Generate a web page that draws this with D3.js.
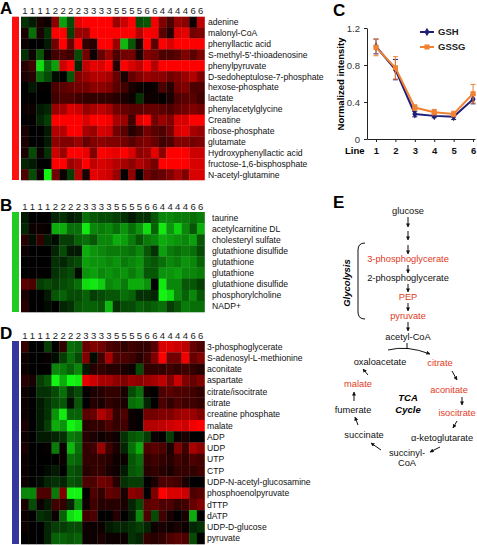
<!DOCTYPE html>
<html><head><meta charset="utf-8">
<script src="https://cdn.jsdelivr.net/npm/d3@7"></script>
<style>body{margin:0;background:#fff} svg{display:block} text{font-family:"Liberation Sans",Arial,sans-serif}</style>
</head><body><svg id="c" width="477" height="545"></svg>
<script>
// ---------- DATA ----------
const colLabels = ["1","1","1","1","2","2","2","2","3","3","3","3","5","5","5","5","6","6","4","4","4","4","6","6"];

const rowsA = ["adenine","malonyl-CoA","phenyllactic acid","S-methyl-5'-thioadenosine","phenylpyruvate","D-sedoheptulose-7-phosphate","hexose-phosphate","lactate","phenylacetylglycine","Creatine","ribose-phosphate","glutamate","Hydroxyphenyllactic acid","fructose-1,6-bisphosphate","N-acetyl-glutamine"];
const valuesA = [
 [-0.2,-0.1,0.1,0.05, 0.55,-0.65,-0.3,0.9, 1,1,1,1, 0.6,0.8,1,-0.3, -0.35,0.95,0.5,0.3, 0.6,0.55,0.05,0.75],
 [0.1,-0.45,0.1,-0.2, 1,1,-0.25,0.6, 0.6,1,1,1, 1,1,1,0.7, 1,0.95,0.35,0.15, 0.85,0.9,0.45,0.5],
 [0.05,0,0,-0.1, 0.45,1,0.4,1, 0.2,0.15,1,1, 0.6,-0.75,-0.35,0.1, 1,0.35,1,0.85, 1,1,1,1],
 [-0.2,0.05,-0.35,0.05, 0.25,0.3,0.25,-0.3, 0.45,0.05,0.4,0.6, 0.3,0.45,0.45,0.1, 0.5,0.45,0.3,0.3, 0.35,0.5,0.35,0.5],
 [0.15,0.25,-0.9,-0.4, -0.65,0.8,1,-0.15, 0.75,0.9,0.85,1, 0.15,1,0.85,0.75, 1,0.7,1,1, 1,1,1,1],
 [0.1,0.15,-0.45,-0.3, -0.05,0,-0.35,0.5, 0.6,0.7,0.7,0.65, 0.4,0.1,0.4,0.5, 0.6,0.55,0.55,0.45, 0.5,0.6,0.7,0.5],
 [0,-0.1,0.02,0.02, 0.3,0.35,0.4,0.45, 0.45,0.55,0.55,0.5, 0.35,0.25,0.1,0.05, 0.03,0.05,0.3,0.15, 0.45,0.5,0.3,0.3],
 [0,0,0,0, 0.25,0.3,0.3,0.25, 0.2,0.2,0.2,0.2, 0.15,0.1,0.05,-0.2, 0.05,0.05,0.02,0.1, 0.3,0.35,0.35,0.25],
 [0.05,0.05,-0.1,-0.15, 0.6,0.65,0.85,0.8, 0.6,0.65,0.75,0.65, 0.45,0.4,0.35,0.35, 0.4,0.4,0.35,0.3, 0.4,0.45,0.5,0.45],
 [0,0.02,-0.15,-0.25, 1,1,1,1, 0.85,1,1,0.95, 0.65,0.6,0.25,0.85, 1,0.45,0.6,0.5, 0.85,0.85,1,1],
 [0.1,0,0,-0.1, 0.7,0.7,1,1, 0.65,0.6,0.85,0.8, 0.45,0.35,0.15,0.25, 0.45,0.35,0.3,0.45, 0.85,0.9,0.65,0.6],
 [0.1,0,0,-0.1, 0.55,0.5,0.5,0.6, 0.4,0.5,0.55,0.5, 0.5,0.45,0.35,0.45, 0.5,0.4,0.25,0.3, 0.5,0.5,0.45,0.5],
 [0.1,-0.3,0.05,-0.2, 0.8,0.6,1,1, 0.9,0.5,1,0.95, 0.9,1,0.85,0.55, 0.6,0.9,0.55,1, 1,1,0.8,0.8],
 [-0.15,-0.1,0,0, 1,1,0.6,0.7, 1,0.75,0.85,0.8, 0.7,0.65,0.55,0.7, 0.6,0.45,1,1, 1,1,0.85,0.85],
 [0.3,-0.3,0.05,-1, 0.45,0.05,-0.25,0.7, 0.1,0.9,0.85,0.8, 0.6,0.02,0.55,0, 0.45,0.35,0.4,0.5, 0.65,0.5,0.85,0.85]
];

const rowsB = ["taurine","acetylcarnitine DL","cholesteryl sulfate","glutathione disulfide","glutathione","glutathione","glutathione disulfide","phosphorylcholine","NADP+"];
const valuesB = [
 [-0.1,0,0,0, -0.15,-0.2,-0.1,-0.15, -0.45,-0.35,-0.3,-0.3, -0.25,-0.2,-0.1,-0.2, -0.2,-0.35,-0.55,-0.55, -0.5,-0.5,-0.45,-0.5],
 [-0.15,0.05,0.05,0.03, -0.7,-0.7,-0.45,-0.45, -0.95,-0.55,-0.5,-0.55, -0.45,-0.6,-0.45,-0.6, -0.9,-0.4,-0.95,-0.6, -0.85,-0.55,-0.35,-0.7],
 [0.15,-0.05,0.2,-0.1, -0.05,-0.25,-0.25,-0.4, -0.45,-0.35,-0.55,-0.55, -0.7,-0.65,-0.5,-0.35, -0.5,-0.55,-0.7,-0.65, -0.6,-0.55,-0.65,-0.35],
 [0.05,0,0,0, -0.15,-0.3,-0.1,-0.1, -0.7,-0.6,-0.55,-0.5, -0.5,-0.5,-0.45,-0.55, -0.35,-0.2,-0.65,-0.5, -0.45,-0.5,-0.45,-0.3],
 [0,0,0,0, -0.2,-0.15,-0.25,-0.3, -0.65,-0.6,-0.6,-0.55, -0.6,-0.5,-0.55,-0.6, -0.4,-0.35,-0.45,-0.55, -0.5,-0.6,-0.55,-0.4],
 [0,0,0.02,0, -0.2,-0.25,-0.3,-0.05, -0.6,-0.65,-0.55,-0.6, -0.55,-0.6,-0.5,-0.6, -0.35,-0.35,-0.6,-0.6, -0.65,-0.55,-0.55,-0.5],
 [0.35,0.3,-0.25,-0.3, -0.25,-0.3,-0.35,-0.45, -0.9,-0.95,-0.85,-0.55, -0.6,-0.5,-0.7,-0.7, -0.6,0,-0.95,-0.55, -0.55,-0.35,-0.35,-0.25],
 [0.1,0,0,-0.1, -0.35,-0.4,-0.3,-0.3, -0.4,-0.25,-0.3,-0.35, -0.35,-0.45,-0.4,-0.2, -0.2,-0.15,-1,-0.9, -0.55,-0.4,-0.55,-0.35],
 [0.15,0,0,-0.05, 0,-0.15,-0.2,-0.35, -0.4,-0.4,-0.35,-0.75, -0.2,-0.3,-0.3,-0.4, -0.35,-0.4,-0.45,-0.25, -0.35,-0.5,-0.45,-0.45]
];

const rowsD = ["3-phosphoglycerate","S-adenosyl-L-methionine","aconitate","aspartate","citrate/isocitrate","citrate","creatine phosphate","malate","ADP","UDP","UTP","CTP","UDP-N-acetyl-glucosamine","phosphoenolpyruvate","dTTP","dATP","UDP-D-glucose","pyruvate"];
const valuesD = [
 [0.2,0,0,-0.25, 0,0.2,-0.45,-0.4, 0.4,0.5,0.45,0.3, 0.25,0.2,0.25,0.2, 0.2,0.35,0.85,0.85, 0.8,0.75,0.4,0.3],
 [0.05,0,0,0.03, -0.05,-0.25,-0.45,-0.3, 0.5,-0.05,0.25,0.65, 0.3,0.3,0.25,0.15, 0.25,0.5,1,0.45, 0.45,0.95,0.4,0.5],
 [0.05,0,0,0, -0.55,-0.5,-0.4,-0.55, -0.1,0.15,0.2,0.15, 0.15,0.1,0.05,-0.3, 0.2,0.2,0.2,0.25, 0.2,0.25,0.2,0.15],
 [0.15,0.1,-0.25,-0.35, -1,-0.7,-1,-0.95, 0.9,0.8,0.65,0.65, 0.55,0.5,0.6,0.55, 0.6,0.65,0.75,0.5, 0.8,0.5,0.4,0.5],
 [0.05,0,-0.2,-0.2, -0.3,-0.45,-0.2,-0.3, 0.02,0.1,0.15,0.2, 0.2,0.1,-0.3,-0.45, 0.05,0,0.3,0.35, 0.3,0.3,0.25,0.2],
 [0.05,0,-0.1,-0.2, -0.3,-0.35,-0.05,-0.35, 0,0.15,0.1,0.2, 0.15,0.1,-0.45,-0.5, -0.15,0,0.3,0.2, 0.3,0.25,0.25,0.2],
 [0.05,0,-0.1,-0.2, -0.6,-0.95,-0.4,-0.4, 0.35,0.4,0.7,0.55, 0.2,0.3,0.05,0, 0.45,0.45,0.5,0.5, 0.6,0.65,0.6,0.5],
 [0.1,0,-0.1,-0.25, -0.7,-0.6,-1,-0.9, 0.15,0.2,0.2,0.3, 0.2,0.25,0.05,0, 0.7,0.7,0.75,0.8, 0.85,0.8,0.95,1],
 [0.05,0,-0.1,-0.1, -0.15,-0.2,-0.5,-0.45, 0.15,0.1,0.05,0.1, 0.05,-0.2,-0.35,-0.4, -0.25,0.05,0,-0.25, 0.05,0.1,0,0],
 [0.1,0,0,0.03, -0.5,0.05,-0.75,-0.45, 0.2,0.25,0.6,0.25, 0.1,-0.15,-0.45,-0.7, 0.3,0.35,0.3,0.1, 0.5,0.25,0.65,0.55],
 [0.05,0,0,0, 0,0.05,-0.45,-0.4, 0.2,0.2,0.2,0.15, 0.05,0.05,-0.35,-0.45, 0.2,0.25,0.2,0.15, 0.25,0.2,0.3,0.25],
 [0.05,0,0,-0.05, -0.1,0,-0.35,-0.3, 0.15,0.2,0.2,0.1, 0.05,-0.1,-0.35,-0.4, 0.15,0.2,0.15,0.1, 0.2,0.2,0.2,0.25],
 [0.05,0,-0.05,-0.15, -0.2,-0.15,-0.35,-0.3, 0.3,0.3,0.45,0.4, 0.15,-0.2,-0.25,-0.25, 0,0.1,0.3,0.3, 0.25,0.1,0,0],
 [-0.55,-0.55,0.3,0.3, -0.5,0.5,-1,-1, 0,0.3,0.2,0.4, 0.35,0.1,0.55,0.5, 0,0.5,1,0.85, 0.85,0.8,0.3,0.35],
 [0.1,-0.3,0.05,-0.1, 0.25,0.2,-0.15,-0.6, 0.05,0.25,0.15,0.15, 0.15,0.1,-0.15,-0.3, 0.35,0.4,0.3,0.3, 0.2,0.25,0.4,0.5],
 [0.05,0,-0.2,-0.15, 0.05,-0.4,-0.9,-1, 0.25,0.3,0,0, 0.15,0,-0.1,-0.55, 0.3,-0.3,0.25,0.1, 0,0.1,-0.7,0],
 [0.05,0,0,-0.15, -0.25,-0.25,-0.3,-0.3, 0.05,0.05,0.05,-0.1, -0.15,-0.15,-0.2,-0.25, -0.15,0.05,0.1,0.05, 0.1,0.05,-0.15,-0.2],
 [0,0,0,-0.15, -0.4,-0.4,-0.35,-0.4, 0.05,0.05,0.1,0.05, 0.05,0.05,-0.2,-0.15, 0.2,0.15,0.2,0.3, 0.35,0.3,-0.3,0]
];

// Panel C
const lineIds = [1,2,3,4,5,6];
const gsh = [1.0, 0.75, 0.27, 0.25, 0.24, 0.43];
const gshErr = [0.08, 0.11, 0.03, 0.02, 0.03, 0.05];
const gssg = [0.99, 0.77, 0.34, 0.29, 0.27, 0.49];
const gssgErr = [0.09, 0.12, 0.03, 0.03, 0.03, 0.1];
const yTicksC = [0, 0.4, 0.8, 1.2];

// Panel E pathway labels
const pathNodes = [
 {id:"glucose", red:false},{id:"3-phosphoglycerate", red:true},{id:"2-phosphoglycerate", red:false},
 {id:"PEP", red:true},{id:"pyruvate", red:true},{id:"acetyl-CoA", red:false},
 {id:"oxaloacetate", red:false},{id:"citrate", red:true},{id:"malate", red:true},{id:"aconitate", red:true},
 {id:"fumerate", red:false},{id:"isocitrate", red:true},{id:"succinate", red:false},
 {id:"\u03b1-ketoglutarate", red:false},{id:"succinyl-", red:false},{id:"CoA", red:false}
];

// ---------- DRAW ----------
const svg = d3.select("#c");
const FONT = '"Liberation Sans",Arial,sans-serif';
const color = d3.scaleLinear().domain([-1,0,1]).range(["#12f512","#000000","#ff0000"]).clamp(true);

function letter(t,x,y){
  svg.append("text").attr("x",x).attr("y",y).attr("font-size",17).attr("font-weight","bold").text(t);
}

function heat(rows, values, top, bottom, barColor, labelX){
  const g = svg.append("g");
  const x = d3.scaleBand().domain(d3.range(colLabels.length)).range([21,204.5]);
  const y = d3.scaleBand().domain(d3.range(rows.length)).range([top,bottom]);
  g.append("rect").attr("x",12).attr("y",top).attr("width",7).attr("height",bottom-top).attr("fill",barColor);
  values.forEach((row,i)=>{
    g.selectAll(null).data(row).enter().append("rect")
      .attr("x",(d,j)=>x(j)).attr("y",y(i))
      .attr("width",x.bandwidth()+0.3).attr("height",y.bandwidth()+0.3)
      .attr("fill",d=>color(d));
  });
  g.selectAll(null).data(colLabels).enter().append("text")
    .attr("x",(d,j)=>x(j)+x.bandwidth()/2).attr("y",top-2.5)
    .attr("text-anchor","middle").attr("font-size",9.5).attr("fill","#222").text(d=>d);
  g.selectAll(null).data(rows).enter().append("text")
    .attr("x",labelX).attr("y",(d,i)=>y(i)+y.bandwidth()/2).attr("dy","0.35em")
    .attr("font-size",8.6).attr("fill","#111").text(d=>d);
}

letter("A",0,14);
heat(rowsA, valuesA, 16.7, 180, "#ff1010", 208);
letter("B",0,211);
heat(rowsB, valuesB, 212, 312, "#1fcc1f", 212);
letter("D",0,339);
heat(rowsD, valuesD, 341, 544, "#35379d", 207);

// ---------- Panel C ----------
letter("C",333,16);
const gc = svg.append("g");
const xc = d3.scaleLinear().domain([0.536,6.1]).range([367,475]);
const yc = d3.scaleLinear().domain([0,1.2]).range([139,28]);
const yAx = gc.append("g").attr("transform","translate(367,0)")
  .call(d3.axisLeft(yc).tickValues(yTicksC).tickSize(3).tickSizeOuter(0).tickFormat(d=>d===0?"0":d3.format(".1f")(d)));
yAx.selectAll("text").attr("font-size",9.5).attr("fill","#333").attr("font-family",FONT).attr("dx","-1");
const xAx = gc.append("g").attr("transform","translate(0,139)")
  .call(d3.axisBottom(xc).tickValues(lineIds).tickSize(3).tickSizeOuter(0).tickFormat(d3.format("d")));
xAx.selectAll("text").attr("font-size",9.5).attr("font-weight","bold").attr("fill","#111").attr("font-family",FONT).attr("dy","0.9em");
gc.selectAll(".domain,.tick line").attr("stroke","#222");
gc.append("text").attr("x",345).attr("y",154).attr("font-size",9.5).attr("font-weight","bold").text("Line");
gc.append("text").attr("transform","translate(344,84) rotate(-90)").attr("text-anchor","middle")
  .attr("font-size",9.5).attr("font-weight","bold").text("Normalized intensity");

function series(vals, errs, col, shape){
  const pts = vals.map((v,i)=>({x:lineIds[i],y:v,e:errs[i]}));
  gc.selectAll(null).data(pts).enter().append("path")
    .attr("d",d=>`M${xc(d.x)},${yc(d.y-d.e)}V${yc(d.y+d.e)}M${xc(d.x)-2.5},${yc(d.y+d.e)}h5M${xc(d.x)-2.5},${yc(d.y-d.e)}h5`)
    .attr("stroke",col).attr("stroke-width",1).attr("fill","none");
  gc.append("path").datum(pts).attr("d",d3.line().x(d=>xc(d.x)).y(d=>yc(d.y)))
    .attr("stroke",col).attr("stroke-width",2).attr("fill","none");
  const sym = d3.symbol().type(shape==="sq"?d3.symbolSquare:d3.symbolDiamond).size(shape==="sq"?26:22);
  gc.selectAll(null).data(pts).enter().append("path").attr("d",sym)
    .attr("transform",d=>`translate(${xc(d.x)},${yc(d.y)})`).attr("fill",col);
}
series(gsh, gshErr, "#1f1f78", "di");
series(gssg, gssgErr, "#f08232", "sq");
// legend
[["GSH","#1f1f78","di",32],["GSSG","#f08232","sq",47]].forEach(([t,c,s,yy])=>{
  gc.append("line").attr("x1",420).attr("x2",434).attr("y1",yy).attr("y2",yy).attr("stroke",c).attr("stroke-width",2);
  gc.append("path").attr("d",d3.symbol().type(s==="sq"?d3.symbolSquare:d3.symbolDiamond).size(s==="sq"?26:22))
    .attr("transform",`translate(427,${yy})`).attr("fill",c);
  gc.append("text").attr("x",438).attr("y",yy).attr("dy","0.35em").attr("font-size",9.5).attr("font-weight","bold").attr("fill","#222").text(t);
});

// ---------- Panel E ----------
letter("E",333,208);
const ge = svg.append("g");
svg.append("defs").append("marker").attr("id","ah").attr("viewBox","0 0 10 10").attr("refX",9).attr("refY",5)
  .attr("markerWidth",4).attr("markerHeight",4).attr("orient","auto-start-reverse")
  .append("path").attr("d","M0,0L10,5L0,10z").attr("fill","#111");
const pos = {
 "glucose":[408,214], "3-phosphoglycerate":[408,262], "2-phosphoglycerate":[408,281], "PEP":[408,300],
 "pyruvate":[408,319], "acetyl-CoA":[408,340], "oxaloacetate":[380,365], "citrate":[440,366],
 "malate":[358,387], "aconitate":[449,393], "fumerate":[353,413], "isocitrate":[457,416],
 "succinate":[364,438], "\u03b1-ketoglutarate":[442,441], "succinyl-":[407,456], "CoA":[407,466]
};
ge.selectAll(null).data(pathNodes).enter().append("text")
  .attr("x",d=>pos[d.id][0]).attr("y",d=>pos[d.id][1]).attr("text-anchor","middle")
  .attr("font-size",9.3).attr("fill",d=>d.red?"#e23a26":"#111").text(d=>d.id);
const arrows = [
 [408,217,408,227],[408,231,408,240],[408,245,408,254],[408,265,408,273],[408,284,408,292],
 [408,303,408,311],[408,322,408,331],[368,375,363,369],[452,371,457,380],[354,401,354,392],
 [462,397,462,405],[358,425,355,417],[457,421,453,428],[381,450,371,443],[440,447,430,452]
];
ge.selectAll(null).data(arrows).enter().append("line")
  .attr("x1",d=>d[0]).attr("y1",d=>d[1]).attr("x2",d=>d[2]).attr("y2",d=>d[3])
  .attr("stroke","#111").attr("stroke-width",1).attr("marker-end","url(#ah)");
ge.append("path").attr("d","M407,343V348").attr("stroke","#111").attr("fill","none");
ge.append("path").attr("d","M388,350Q407,345 430,354").attr("stroke","#111").attr("fill","none").attr("marker-end","url(#ah)");
ge.append("path").attr("d","M365,243Q358,243 358,250V312Q358,319 365,319").attr("stroke","#111").attr("fill","none");
ge.append("text").attr("transform","translate(350,283) rotate(-90)").attr("text-anchor","middle")
  .attr("font-size",9.5).attr("font-weight","bold").attr("font-style","italic").text("Glycolysis");
ge.append("text").attr("x",408).attr("y",401).attr("text-anchor","middle").attr("font-size",9.5)
  .attr("font-weight","bold").attr("font-style","italic").text("TCA");
ge.append("text").attr("x",408).attr("y",413).attr("text-anchor","middle").attr("font-size",9.5)
  .attr("font-weight","bold").attr("font-style","italic").text("Cycle");
</script></body></html>
